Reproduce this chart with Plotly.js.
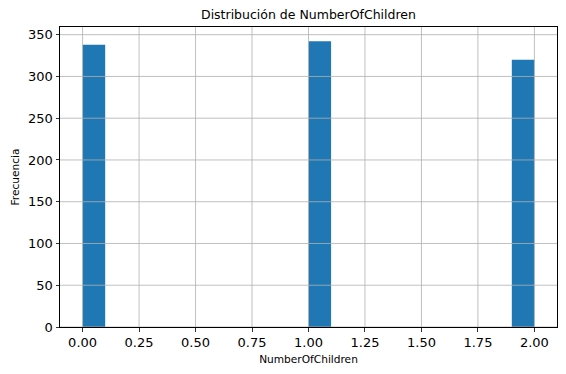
<!DOCTYPE html>
<html>
<head>
<meta charset="utf-8">
<script src="https://cdn.plot.ly/plotly-3.0.1.min.js"></script>
<style>html,body{margin:0;padding:0;background:#fff;}#chart{width:566px;height:374px;}</style>
</head>
<body>
<div id="chart"></div>
<script>
// Histogram bins (bin width 0.1, 20 bins from 0 to 2; only non-empty shown)
var binLeft = [0.0, 1.0, 1.9];
var counts = [338, 342, 320];
var binWidth = 0.1;
var xTicks = [0, 0.25, 0.5, 0.75, 1.0, 1.25, 1.5, 1.75, 2.0];
var yTicks = [0, 50, 100, 150, 200, 250, 300, 350];

var centers = binLeft.map(function(l){ return l + binWidth/2; });
var font = 'DejaVu Sans, sans-serif';
var gridColor = '#b0b0b0';

var shapes = [];
xTicks.forEach(function(v){
  shapes.push({type:'line', xref:'x', yref:'paper', x0:v, x1:v, y0:0, y1:1,
    line:{color:gridColor, width:0.8}, layer:'above'});
});
yTicks.forEach(function(v){
  shapes.push({type:'line', xref:'paper', yref:'y', x0:0, x1:1, y0:v, y1:v,
    line:{color:gridColor, width:0.8}, layer:'above'});
});

var trace = {
  type:'bar', x:centers, y:counts, width:binWidth,
  marker:{color:'#1f77b4', line:{width:0}},
  hoverinfo:'x+y'
};

var layout = {
  width:566, height:374,
  margin:{l:60, r:9, t:27, b:47},
  paper_bgcolor:'#fff', plot_bgcolor:'#fff',
  showlegend:false,
  font:{family:font, color:'#000', size:13},
  title:{text:'Distribución de NumberOfChildren', font:{family:font, size:12.5, color:'#000'},
    x:0.545, xanchor:'center', y:0.96, yanchor:'middle'},
  xaxis:{range:[-0.1, 2.1], tickvals:xTicks, tickformat:'.2f',
    showgrid:false, zeroline:false, showline:true, linecolor:'#000', linewidth:1, mirror:true,
    ticks:'outside', ticklen:3.5, tickwidth:0.8, tickcolor:'#000',
    tickfont:{family:font, size:13, color:'#000'},
    title:{text:'NumberOfChildren', font:{family:font, size:10.6, color:'#000'}, standoff:6}},
  yaxis:{range:[0, 359.2], tickvals:yTicks,
    showgrid:false, zeroline:false, showline:true, linecolor:'#000', linewidth:1, mirror:true,
    ticks:'outside', ticklen:3.5, tickwidth:0.8, tickcolor:'#000',
    tickfont:{family:font, size:13, color:'#000'},
    title:{text:'Frecuencia', font:{family:font, size:10.6, color:'#000'}, standoff:6}},
  shapes:shapes
};

Plotly.newPlot('chart', [trace], layout, {displayModeBar:false, staticPlot:true});
</script>
</body>
</html>
